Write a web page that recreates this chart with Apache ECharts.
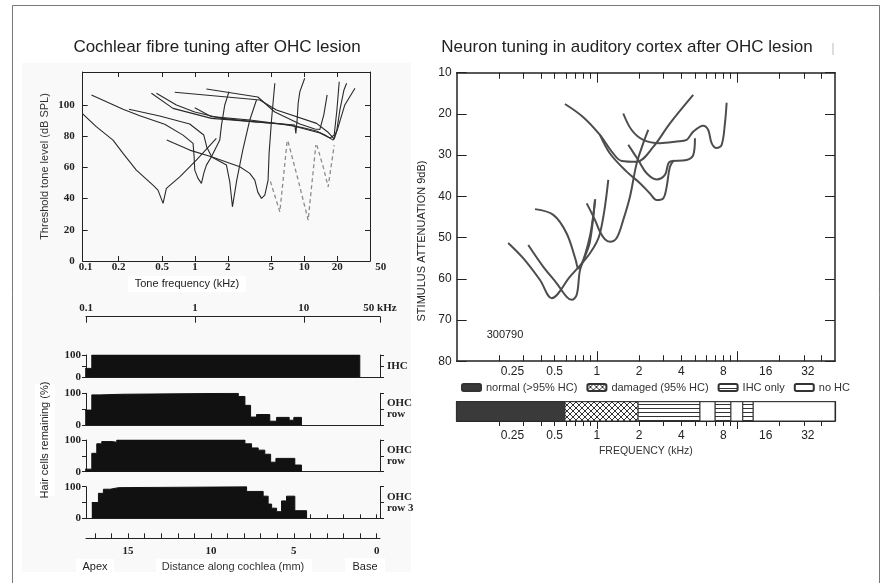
<!DOCTYPE html>
<html>
<head>
<meta charset="utf-8">
<title>OHC lesion tuning</title>
<script src="https://cdn.jsdelivr.net/npm/echarts@6.0.0/dist/echarts.min.js"></script>
<style>
  html, body { margin: 0; padding: 0; background: #fff; }
  #chart { width: 882px; height: 583px; }
</style>
</head>
<body>
<div id="chart"></div>
<script>
// ---- left top: cochlear fibre tuning curves, [kHz, dB SPL] ----
const fibreA = [[0.093, 94.5], [0.125, 86], [0.178, 77.4], [0.22, 68.9], [0.291, 58.2], [0.413, 48.6], [0.459, 45.4], [0.511, 36.9], [0.548, 46.5], [0.726, 53.9], [1.03, 64.6], [1.57, 78.5]];
const fibreB = [[0.113, 106.3], [0.22, 97.1], [0.313, 93], [0.529, 87.5], [0.778, 80.6], [0.961, 75.3], [0.981, 67.8], [0.996, 58.2], [1.067, 52.9], [1.147, 49.7], [1.204, 56.1], [1.274, 61.4], [1.416, 66.8], [1.687, 77.4], [1.75, 87], [1.875, 99.9], [2.05, 108.4]];
const fibreC = [[0.249, 97.1], [0.476, 92.8], [0.896, 87.7], [1.204, 80.7], [1.282, 73], [1.425, 66.6], [1.943, 61.4], [2.083, 50.7], [2.204, 34.7], [2.413, 51.8], [2.739, 71], [3.176, 90.3], [3.656, 103.1]];
const fibreD = [[0.552, 77.4], [0.896, 71], [1.416, 66.8], [2.573, 60.3], [3.176, 56.1], [3.53, 51.8], [3.76, 44.1], [4.06, 40.1], [4.36, 42.2], [4.67, 51.8], [4.77, 68.9], [5.02, 90.3], [5.38, 113.8]];
const fibreE = [[0.40, 107.4], [0.63, 97.7], [1.416, 91.3], [3.40, 89.2], [8.2, 87.1], [8.38, 81.7], [8.61, 90.3], [8.8, 101], [9.12, 108.4], [10.1, 117]];
const fibreF = [[0.444, 107.4], [0.677, 99.9], [0.996, 95.4], [1.687, 91.5], [3.38, 89.2], [5.98, 87.7], [9.12, 85.8], [12.97, 83.2], [15.46, 80.7], [18.4, 77.4], [19.9, 83.9], [21.2, 96.7], [23.1, 109.5], [24.4, 113.8]];
const fibreG = [[0.653, 108], [3.92, 103.1], [5.57, 96.7], [12.97, 88.1], [16.4, 82.6], [18.8, 78.1], [20.3, 85.1], [23.5, 99.9], [29.1, 110.6]];
const fibreH = [[1.274, 110.1], [3.76, 105], [5.38, 95.4], [9.12, 87.7], [12.5, 84.5], [13.9, 84.2], [15.1, 93.5], [16.2, 106.3]];
const fibreI = [[0.996, 98.1], [1.416, 92.4], [3.176, 90.3], [7.38, 87.1], [13.9, 81.9], [17.2, 78.7], [18.8, 80.7], [19.9, 96.7], [20.9, 114.8]];
const fibreDashA = [[4.9, 51], [5.98, 31.5], [6.97, 76.4]];
const fibreDashB = [[7.12, 76.4], [8.8, 51.8], [10.86, 26.2], [11.67, 47.5], [12.77, 74.2]];
const fibreDashC = [[13.04, 74.2], [14.9, 60.3], [16.55, 47.5], [17.78, 62.5], [18.8, 74.2]];
const fibreSolid = [fibreA, fibreB, fibreC, fibreD, fibreE, fibreF, fibreG, fibreH, fibreI];
const fibreDashed = [fibreDashA, fibreDashB, fibreDashC];
const fibreFreqLabels = [0.1, 0.2, 0.5, 1, 2, 5, 10, 20, 50];
const fibreFreqTicks = [0.2, 0.5, 1, 2, 5, 10, 20];
const fibreDbLabels = [0, 20, 40, 60, 80, 100];

// ---- left bottom: hair cells remaining (%), [mm from base where the step starts, %] ----
const ihcRow = [[17.59, 40], [17.19, 100], [1.02, 0]];
const ohc1Row = [[17.59, 47], [17.19, 95], [16.69, 97], [15.38, 100], [8.35, 90], [7.95, 62], [7.61, 25], [7.25, 33], [6.45, 12], [6.04, 24], [5.28, 15], [5.0, 24], [4.54, 0]];
const ohc2Row = [[17.59, 8], [17.19, 58], [16.89, 88], [16.59, 95], [15.98, 93], [15.68, 100], [7.95, 88], [7.55, 75], [7.15, 68], [6.75, 55], [6.40, 30], [6.08, 42], [4.94, 21], [4.54, 0]];
const ohc3Row = [[17.19, 50], [16.79, 79], [16.49, 92], [16.08, 97], [15.58, 100], [7.85, 85], [6.85, 70], [6.55, 45], [6.34, 32], [6.04, 21], [5.74, 55], [5.44, 70], [4.94, 24], [4.23, 0]];
const hairRows = [ihcRow, ohc1Row, ohc2Row, ohc3Row];
const rowNames = ['IHC', 'OHC\nrow', 'OHC\nrow', 'OHC\nrow 3'];
const cochleaFreqLabels = [0.1, 1, 10, 50];
const distanceLabels = [0, 5, 10, 15];
const distanceTicks = [0, 1, 2, 3, 4, 5, 6, 7, 8, 9, 10, 11, 12, 13, 14, 15, 16, 17];

// ---- right: auditory cortex neuron tuning, [kHz, attenuation dB] ----
const neuronP = [[0.233, 51.3], [0.298, 55], [0.393, 60.3], [0.476, 64.7], [0.643, 59.5], [0.893, 53.8], [1.052, 49], [1.206, 36]];
const neuronQ = [[0.324, 51.8], [0.415, 57.1], [0.517, 61.1], [0.609, 64.4], [0.661, 65.1], [0.718, 63.9], [0.758, 57.9], [0.823, 54.6], [0.893, 51], [0.969, 40.9]];
const neuronR = [[0.362, 43.1], [0.489, 44.5], [0.609, 49], [0.706, 55.4], [0.737, 57.5], [0.8, 55.4], [0.868, 51.4], [0.918, 47.4], [0.974, 40.7]];
const neuronS = [[0.846, 41.7], [0.969, 45.7], [1.052, 48.6], [1.142, 50.4], [1.24, 51], [1.384, 50.1], [1.543, 45.7], [1.722, 40.1], [1.923, 32], [2.143, 27.1], [2.327, 23.9]];
const neuronT = [[0.592, 17.6], [0.8, 20.8], [1.052, 25.1], [1.281, 29.2], [1.503, 31.4], [1.923, 31.6], [2.525, 28], [3.322, 22.3], [4.87, 15.4]];
const neuronU = [[1.543, 19.9], [1.771, 23.9], [2.143, 26.3], [2.819, 27.1], [3.708, 26.7], [4.371, 26.3], [4.87, 24.3], [5.74, 22.9], [6.23, 23.9], [6.59, 27.1], [7.15, 28.3], [7.77, 27.5], [8.2, 22.3], [8.43, 17.3]];
const neuronV = [[1.675, 27.5], [1.974, 31.2], [2.266, 34.4], [2.67, 35.9], [3.06, 34.8], [3.322, 31.6], [4.371, 31.2], [4.87, 30], [5.01, 25.9]];
const neuronW = [[1.052, 25.1], [1.24, 29.6], [1.631, 34], [2.03, 36.8], [2.392, 39.3], [2.67, 40.9], [2.976, 40.5], [3.147, 37.7], [3.322, 32.8], [3.548, 31.2]];
const neuronCurves = [neuronP, neuronQ, neuronR, neuronS, neuronT, neuronU, neuronV, neuronW];
const neuronFreqLabels = [0.25, 0.5, 1, 2, 4, 8, 16, 32];
const neuronMinorTicks = [0.2, 0.3, 0.4, 0.5, 0.6, 0.7, 0.8, 0.9, 2, 3, 4, 5, 6, 7, 8, 9, 20, 30, 40];
const neuronMajorTicks = [1, 10];
const attenuationLabels = [10, 20, 30, 40, 50, 60, 70, 80];

// hair cell map under the cortex plot, [from kHz, to kHz]
const stripNames = ['normal (>95% HC)', 'damaged (95% HC)', 'IHC only', 'no HC'];
const normalBands = [[0.1, 0.592]];
const damagedBands = [[0.592, 1.97]];
const ihcOnlyBands = [[1.97, 5.44], [6.96, 9.05], [10.97, 13.05]];
const noHcBands = [[5.44, 6.96], [9.05, 10.97], [13.05, 50]];

const SANS = '"Liberation Sans", Arial, sans-serif';
const SERIF = '"Liberation Serif", "Times New Roman", serif';
const ink = '#222';

const chart = echarts.init(document.getElementById('chart'));

const grids = [], xAxes = [], yAxes = [], series = [];

function grid(left, top, width, height) {
  grids.push({ left, top, width, height, containLabel: false, outerBoundsMode: 'none', show: false });
  return grids.length - 1;
}
function line(show, width) {
  return { show, onZero: false, lineStyle: { color: ink, width: width || 1 } };
}
function ticks(values, length, inside, width) {
  if (!values) return { show: false };
  return { show: true, customValues: values, length, inside, lineStyle: { color: ink, width: width || 1 } };
}
function labels(values, font, size, margin, formatter) {
  if (!values) return { show: false };
  return {
    show: true, customValues: values, margin, color: ink,
    fontFamily: font, fontSize: size, fontWeight: font === SERIF ? 'bold' : 'normal',
    formatter: formatter || (v => String(+(+v).toPrecision(6)))
  };
}
function addX(o) {
  xAxes.push(Object.assign({ splitLine: { show: false }, axisLine: line(false), axisTick: { show: false }, axisLabel: { show: false }, silent: true }, o));
  return xAxes.length - 1;
}
function addY(o) {
  yAxes.push(Object.assign({ splitLine: { show: false }, axisLine: line(false), axisTick: { show: false }, axisLabel: { show: false }, silent: true }, o));
  return yAxes.length - 1;
}

// ---------- fibre tuning panel ----------
const decadePx = 109.3;
const fibreMin = 0.094, fibreMax = 40, fibreLabelMax = 50.05;
const fibreWidth = decadePx * Math.log10(fibreMax / fibreMin);
const fibreLabelWidth = decadePx * Math.log10(fibreLabelMax / fibreMin);

const gFib = grid(82.7, 72, fibreWidth, 189);
const xFib = addX({ gridIndex: gFib, type: 'log', min: fibreMin, max: fibreMax, position: 'bottom', axisLine: line(true), axisTick: ticks(fibreFreqTicks, 5, true) });
addX({ gridIndex: gFib, type: 'log', min: fibreMin, max: fibreMax, position: 'top', axisLine: line(true), axisTick: ticks(fibreFreqTicks, 5, true) });
const yFib = addY({
  gridIndex: gFib, type: 'value', min: 0, max: 121, position: 'left',
  axisLine: line(true), axisTick: ticks(fibreDbLabels, 5, true), axisLabel: labels(fibreDbLabels, SERIF, 11, 8),
  name: 'Threshold tone level (dB SPL)', nameLocation: 'middle', nameGap: 32,
  nameTextStyle: { fontFamily: SANS, fontSize: 11, color: '#333' }
});
addY({ gridIndex: gFib, type: 'value', min: 0, max: 121, position: 'right', axisLine: line(true), axisTick: ticks(fibreDbLabels, 5, true) });

const gFibLab = grid(82.7, 72, fibreLabelWidth, 189);
addX({ gridIndex: gFibLab, type: 'log', min: fibreMin, max: fibreLabelMax, position: 'bottom', axisLabel: labels(fibreFreqLabels, SERIF, 11, 1) });
addY({ gridIndex: gFibLab, type: 'value', min: 0, max: 1, show: false });

fibreSolid.forEach(d => series.push({
  type: 'line', xAxisIndex: xFib, yAxisIndex: yFib, data: d, symbol: 'none', silent: true,
  lineStyle: { color: '#2a2a2a', width: 1.1 }
}));
fibreDashed.forEach(d => series.push({
  type: 'line', xAxisIndex: xFib, yAxisIndex: yFib, data: d, symbol: 'none', silent: true,
  lineStyle: { color: '#8c8c8c', width: 1.3, type: [4, 3] }
}));

// ---------- hair cell rows ----------
const rowBoxes = [[355, 22.3], [393.3, 31.7], [440, 31.7], [486.7, 31.6]];
hairRows.forEach((rowData, i) => {
  const g = grid(86, rowBoxes[i][0], 294, rowBoxes[i][1]);
  const xm = addX({
    gridIndex: g, type: 'value', inverse: true, min: -0.2, max: 17.54, position: 'bottom',
    axisLine: line(true), axisTick: ticks(i === 3 ? distanceTicks : null, 4, true)
  });
  if (i === 0) {
    addX({
      gridIndex: g, type: 'log', min: 0.0999, max: 50.05, position: 'top', offset: 38.3,
      axisLine: line(true), axisTick: ticks(cochleaFreqLabels, 6, true),
      axisLabel: labels(cochleaFreqLabels, SERIF, 11, 3, v => (Math.round(v) === 50 ? '50 kHz' : String(+(+v).toPrecision(6))))
    });
  }
  if (i === 3) {
    addX({
      gridIndex: g, type: 'value', inverse: true, min: -0.2, max: 17.54, position: 'bottom', offset: 20,
      axisLine: line(true), axisTick: ticks(distanceTicks, 5, true), axisLabel: labels(distanceLabels, SERIF, 11, 7),
      name: 'Distance along cochlea (mm)', nameLocation: 'middle', nameGap: 23,
      nameTextStyle: { fontFamily: SANS, fontSize: 11, color: '#333' }
    });
  }
  const yl = addY({
    gridIndex: g, type: 'value', min: 0, max: 100, position: 'left',
    axisLine: line(true), axisTick: ticks([0, 50, 100], 4, false), axisLabel: labels([0, 100], SERIF, 11, 5)
  });
  addY({
    gridIndex: g, type: 'value', min: 0, max: 100, position: 'right',
    axisLine: line(true), axisTick: ticks([0, 50, 100], 4, false),
    name: rowNames[i], nameLocation: 'middle', nameRotate: 0, nameGap: 7,
    nameTextStyle: { fontFamily: SERIF, fontWeight: 'bold', fontSize: 11, color: ink, align: 'left', lineHeight: 11 }
  });
  series.push({
    type: 'line', xAxisIndex: xm, yAxisIndex: yl, data: rowData, step: 'end', symbol: 'none', silent: true,
    lineStyle: { color: '#111', width: 1 }, areaStyle: { color: '#111', opacity: 1 }
  });
});

// ---------- cortex neuron tuning panel ----------
const gN = grid(456.7, 72.7, 378.3, 288.5);
const xN = addX({
  gridIndex: gN, type: 'log', min: 0.1, max: 50, position: 'bottom',
  axisLine: line(true, 1.5), axisTick: ticks(neuronMinorTicks, 6, true), axisLabel: labels(neuronFreqLabels, SANS, 12, 4)
});
addX({ gridIndex: gN, type: 'log', min: 0.1, max: 50, position: 'bottom', axisTick: ticks(neuronMajorTicks, 10, true) });
addX({ gridIndex: gN, type: 'log', min: 0.1, max: 50, position: 'top', axisLine: line(true, 1.5), axisTick: ticks(neuronMinorTicks, 6, true) });
addX({ gridIndex: gN, type: 'log', min: 0.1, max: 50, position: 'top', axisTick: ticks(neuronMajorTicks, 10, true) });
const yN = addY({
  gridIndex: gN, type: 'value', inverse: true, min: 10, max: 80, interval: 10, position: 'left',
  axisLine: line(true, 1.5), axisTick: ticks(attenuationLabels, 10, true), axisLabel: labels(attenuationLabels, SANS, 12, 5)
});
addY({ gridIndex: gN, type: 'value', inverse: true, min: 10, max: 80, interval: 10, position: 'right', axisLine: line(true, 1.5), axisTick: ticks(attenuationLabels, 10, true) });

neuronCurves.forEach(d => series.push({
  type: 'line', xAxisIndex: xN, yAxisIndex: yN, data: d, symbol: 'none', smooth: 0.35, silent: true,
  lineStyle: { color: '#4d4d4d', width: 2 }
}));

// ---------- hair cell map strip ----------
function hatch(kind) {
  const c = document.createElement('canvas');
  c.width = 6; c.height = kind === 'cross' ? 6 : 4;
  const g = c.getContext('2d');
  g.fillStyle = '#fff';
  g.fillRect(0, 0, c.width, c.height);
  g.strokeStyle = '#333';
  g.lineWidth = 1;
  g.beginPath();
  if (kind === 'cross') {
    g.moveTo(0, 0); g.lineTo(6, 6);
    g.moveTo(6, 0); g.lineTo(0, 6);
  } else {
    g.moveTo(0, 0.5); g.lineTo(6, 0.5);
  }
  g.stroke();
  return { image: c, repeat: 'repeat' };
}
const stripFills = ['#3a3a3a', hatch('cross'), hatch('lines'), '#ffffff'];
const stripBands = [normalBands, damagedBands, ihcOnlyBands, noHcBands];

const gS = grid(456.7, 401.7, 378.3, 19.3);
const xS = addX({
  gridIndex: gS, type: 'log', min: 0.1, max: 50, position: 'bottom',
  axisLine: line(true, 1.2), axisTick: ticks(neuronMinorTicks, 5, false), axisLabel: labels(neuronFreqLabels, SANS, 12, 9),
  name: 'FREQUENCY (kHz)', nameLocation: 'middle', nameGap: 25,
  nameTextStyle: { fontFamily: SANS, fontSize: 10.5, color: '#333' }
});
addX({ gridIndex: gS, type: 'log', min: 0.1, max: 50, position: 'bottom', axisTick: ticks(neuronMajorTicks, 8, false) });
addX({ gridIndex: gS, type: 'log', min: 0.1, max: 50, position: 'top', axisLine: line(true, 1.2) });
const yS = addY({ gridIndex: gS, type: 'value', min: 0, max: 1, position: 'left', axisLine: line(true, 1.2) });
addY({ gridIndex: gS, type: 'value', min: 0, max: 1, position: 'right', axisLine: line(true, 1.2) });

stripBands.forEach((bands, k) => {
  const fill = stripFills[k];
  series.push({
    type: 'custom', name: stripNames[k], xAxisIndex: xS, yAxisIndex: yS, data: bands, silent: true,
    encode: { x: [0, 1] },
    itemStyle: { color: fill, borderColor: '#333', borderWidth: 1 },
    renderItem: (params, api) => {
      const a = api.coord([api.value(0), 1]);
      const b = api.coord([api.value(1), 0]);
      return {
        type: 'rect',
        shape: { x: a[0], y: a[1], width: b[0] - a[0], height: b[1] - a[1] },
        style: { fill: fill, stroke: '#333', lineWidth: 1 }
      };
    }
  });
});

// ---------- free text and frame ----------
function text(x, y, str, size, extra) {
  return Object.assign({
    type: 'text', x, y, silent: true,
    style: { text: str, fontFamily: SANS, fontSize: size, fill: '#222', align: 'center', verticalAlign: 'middle' }
  }, extra || {});
}
const graphics = [
  { type: 'rect', z: -10, silent: true, shape: { x: 22, y: 63, width: 389, height: 509 }, style: { fill: '#f9f9f9' } },
  { type: 'rect', z: -9, silent: true, shape: { x: 128, y: 276, width: 118, height: 16 }, style: { fill: '#fff' } },
  { type: 'rect', z: -9, silent: true, shape: { x: 35, y: 384, width: 20, height: 112 }, style: { fill: '#fff' } },
  { type: 'rect', z: -9, silent: true, shape: { x: 76, y: 559, width: 38, height: 15 }, style: { fill: '#fff' } },
  { type: 'rect', z: -9, silent: true, shape: { x: 156, y: 559, width: 156, height: 16 }, style: { fill: '#fff' } },
  { type: 'rect', z: -9, silent: true, shape: { x: 345, y: 558, width: 40, height: 16 }, style: { fill: '#fff' } },
  { type: 'rect', z: -8, silent: true, shape: { x: 12.5, y: 5.5, width: 867, height: 600 }, style: { fill: 'none', stroke: '#777', lineWidth: 1 } },
  { type: 'line', silent: true, shape: { x1: 833, y1: 43, x2: 833, y2: 55 }, style: { stroke: '#bbb', lineWidth: 1 } },
  text(217, 47, 'Cochlear fibre tuning after OHC lesion', 17),
  text(627, 47, 'Neuron tuning in auditory cortex after OHC lesion', 17),
  text(187, 284, 'Tone frequency (kHz)', 11),
  text(45, 440, 'Hair cells remaining (%)', 11, { rotation: Math.PI / 2 }),
  text(422, 241, 'STIMULUS ATTENUATION 9dB)', 11, { rotation: Math.PI / 2 }),
  text(95, 567, 'Apex', 11),
  text(365, 567, 'Base', 11),
  text(505, 335, '300790', 11)
];

chart.setOption({
  animation: false,
  backgroundColor: '#ffffff',
  grid: grids,
  xAxis: xAxes,
  yAxis: yAxes,
  legend: {
    left: 456, top: 377, itemWidth: 19, itemHeight: 7, itemGap: 9, icon: 'roundRect', selectedMode: false,
    textStyle: { fontFamily: SANS, fontSize: 11, color: '#333' },
    data: stripNames
  },
  graphic: graphics,
  series: series
});
</script>
</body>
</html>
